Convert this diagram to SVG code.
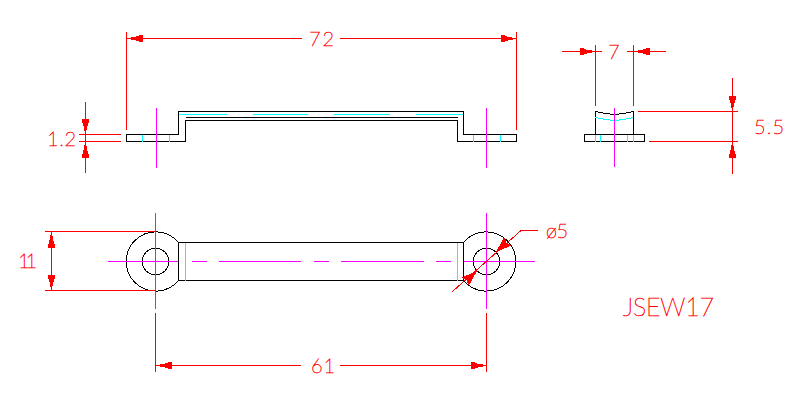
<svg xmlns="http://www.w3.org/2000/svg" xmlns:xlink="http://www.w3.org/1999/xlink" width="799" height="409" viewBox="0 0 799 409">
<style>
path,circle,use{shape-rendering:crispEdges}
.o{fill:none;stroke:#000;stroke-width:1}
.c{fill:none;stroke:#0ff;stroke-width:1}
.m{fill:none;stroke:#f0f;stroke-width:1}
.d{fill:none;stroke:#f00;stroke-width:1}
.a{fill:#f00;stroke:none}
text{fill:#f00;stroke:#f00;stroke-width:.55;font-family:"Lato","Liberation Sans",sans-serif;font-weight:100;font-size:20px}
</style>
<defs>
<path id="ah" d="M0.5 0 L-4 -1 L-9 -2 L-12 -2.2 L-12 -3.2 L-16 -3.2 L-16 3.2 L-12 3.2 L-12 2.2 L-9 2 L-4 1 Z"/>
<path id="ad" d="M0 0 L-16 -5.5 L-14 0 L-16 5.5 Z"/>
</defs>
<rect width="799" height="409" fill="#fff"/>
<g id="front-view">
<path class="o" d="M126.5 134.5H178.5V111.5H463.5V134.5H516.5V141.5H457.5V120.5H185.5V141.5H126.5Z"/>
<path class="o" d="M185.5 117.5H457.5"/>
<path class="c" d="M178.5 114.5H227M253 114.5H308M334 114.5H390M416 114.5H463M142.5 134.5V141.5M169.5 134.5V141.5M473.5 134.5V141.5M500.5 134.5V141.5"/>
<path class="m" d="M156.5 108V168M486.5 108V168"/>
</g>
<g id="side-view">
<path class="o" d="M584.5 134.5H644.5V141.5H584.5ZM595.5 134.5V111.5L606 113.5L614.5 114.5L623 113.5L633.5 111.5V134.5"/>
<path class="c" d="M595.5 117.5L606 119.5L614.5 120.5L623 119.5L633.5 117.5M595.5 134.5V141.5M600.5 134.5V141.5M627.5 134.5V141.5M633.5 134.5V141.5"/>
<path class="m" d="M614.5 108V167"/>
</g>
<g id="plan-view">
<path class="o" d="M178.5 242.5A29.6 29.6 0 1 0 178.5 280.5ZM178.5 242.5H463.5M178.5 280.5H463.5M463.5 242.5V280.5M463.5 242.5A29.6 29.6 0 1 1 463.5 280.5"/>
<circle class="o" cx="155.5" cy="261.5" r="13.3"/>
<circle class="o" cx="486.5" cy="261.5" r="13.3"/>
<path class="c" d="M185.5 242.5V280.5M457.5 242.5V280.5"/>
<path class="m" d="M155.5 213V309M486.5 213V309M108 261.5H178M192 261.5H207M219 261.5H301M314 261.5H329M341 261.5H424M436 261.5H451M464 261.5H535"/>
</g>
<g id="connectors">
<path class="d" d="M126.5 32V130M126.5 38.5H302M340 38.5H516.5M516.5 32V130"/>
<path class="d" d="M85.5 102V173M79 134.5H121M79 141.5H121"/>
<path class="d" d="M595.5 45V106M633.5 45V106M562 51.5H602M627 51.5H666"/>
<path class="d" d="M732.5 78V174M638 111.5H738M649 141.5H738"/>
<path class="d" d="M45 231.5H156M45 290.5H156M51.5 231.5V290.5"/>
<path class="d" d="M155.5 313V372M486.5 313V372M155.5 365.5H301M340 365.5H486.5"/>
<path class="d" d="M452.5 291.5L521 230.5H538"/>
<use class="a" xlink:href="#ah" transform="translate(126.5 38.5) rotate(180)"/>
<use class="a" xlink:href="#ah" transform="translate(516.5 38.5)"/>
<use class="a" xlink:href="#ah" transform="translate(85.5 134.5) rotate(90)"/>
<use class="a" xlink:href="#ah" transform="translate(85.5 141.5) rotate(-90)"/>
<use class="a" xlink:href="#ah" transform="translate(595.5 51.5)"/>
<use class="a" xlink:href="#ah" transform="translate(633.5 51.5) rotate(180)"/>
<use class="a" xlink:href="#ah" transform="translate(732.5 111.5) rotate(90)"/>
<use class="a" xlink:href="#ah" transform="translate(732.5 141.5) rotate(-90)"/>
<use class="a" xlink:href="#ah" transform="translate(51.5 231.5) rotate(-90)"/>
<use class="a" xlink:href="#ah" transform="translate(51.5 290.5) rotate(90)"/>
<use class="a" xlink:href="#ah" transform="translate(155.5 365.5) rotate(180)"/>
<use class="a" xlink:href="#ah" transform="translate(486.5 365.5)"/>
<use class="a" xlink:href="#ad" transform="translate(496 252) rotate(138)"/>
<use class="a" xlink:href="#ad" transform="translate(477 271) rotate(-42)"/>
</g>
<g id="labels">
<text x="309" y="45.5" textLength="25">72</text>
<text x="47" y="146" textLength="29">1.2</text>
<text x="608" y="58.5" textLength="12">7</text>
<text x="754" y="134" textLength="30">5.5</text>
<text x="18" y="268" textLength="19">11</text>
<text x="311" y="373" textLength="24">61</text>
<text x="546" y="238" textLength="22">ø5</text>
<text x="623" y="316" textLength="91" style="font-size:25px">JSEW17</text>
</g>
</svg>
